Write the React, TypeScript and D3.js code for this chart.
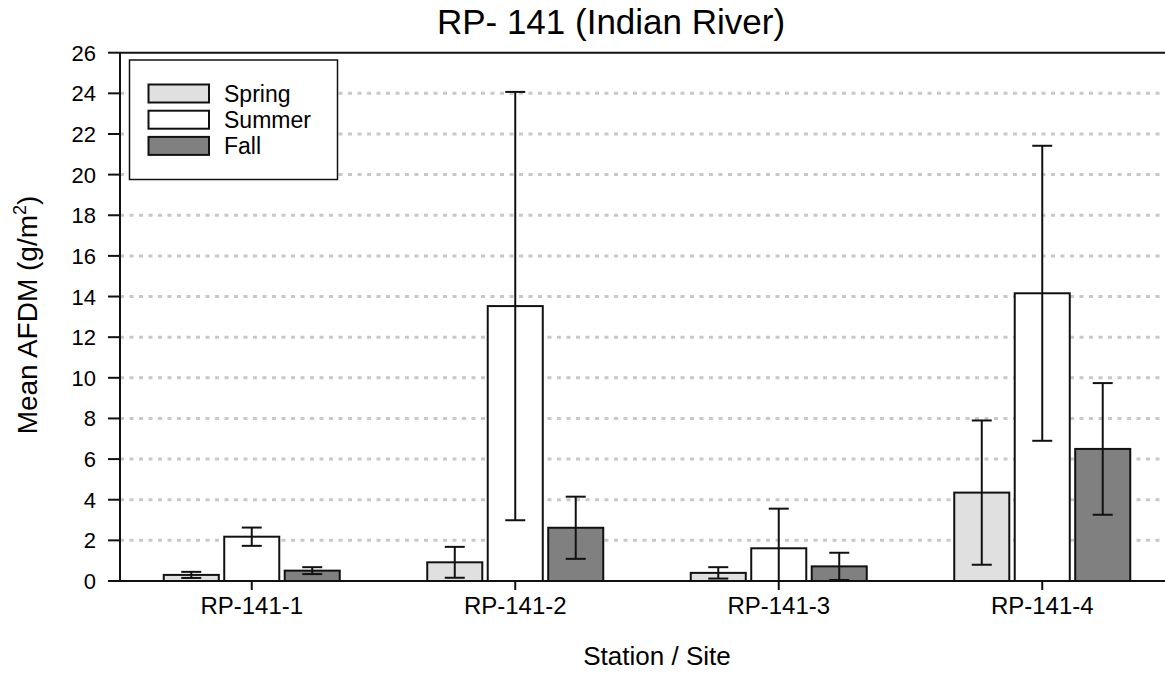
import React from 'react';
import * as d3 from 'd3';

// Station / season data (mean ± error)
const stations = ['RP-141-1', 'RP-141-2', 'RP-141-3', 'RP-141-4'];
const seasons = ['Spring', 'Summer', 'Fall'];
const springMean = [0.3, 0.92, 0.4, 4.35];
const springErr = [0.15, 0.76, 0.28, 3.55];
const summerMean = [2.18, 13.53, 1.61, 14.16];
const summerErr = [0.45, 10.54, 1.95, 7.26];
const fallMean = [0.51, 2.62, 0.72, 6.5];
const fallErr = [0.17, 1.53, 0.67, 3.24];
const yTicks = [0, 2, 4, 6, 8, 10, 12, 14, 16, 18, 20, 22, 24, 26];

const seasonFill: Record<string, string> = {
  Spring: '#e0e0e0',
  Summer: '#ffffff',
  Fall: '#808080',
};

const W = 1165;
const H = 682;
const FONT = '"Liberation Sans", Arial, sans-serif';

const App: React.FC = () => {
  const margin = { left: 120, top: 52.7, bottom: 581 };

  const x = d3.scaleBand<string>().domain(stations).range([margin.left, 1174]).padding(0);
  const inner = d3.scaleBand<string>().domain(seasons).range([-88, 88]).paddingInner(0.09);
  const y = d3.scaleLinear().domain([0, 26]).range([margin.bottom, margin.top]);

  const rows = stations.flatMap((st, i) => [
    { st, season: 'Spring', m: springMean[i], e: springErr[i] },
    { st, season: 'Summer', m: summerMean[i], e: summerErr[i] },
    { st, season: 'Fall', m: fallMean[i], e: fallErr[i] },
  ]);

  const center = (st: string) => (x(st) || 0) + x.bandwidth() / 2;

  return (
    <svg width={W} height={H} style={{ position: 'absolute', left: 0, top: 0, background: '#fff' }} fontFamily={FONT}>
      {/* grid */}
      {yTicks.filter(t => t > 0 && t < 26).map(t => (
        <line key={'g' + t} x1={margin.left} x2={W} y1={y(t)} y2={y(t)}
          stroke="#c8c8c8" strokeWidth={3} strokeDasharray="4,5.5" />
      ))}

      {/* bars */}
      {rows.map((r, i) => {
        const bx = center(r.st) + (inner(r.season) || 0);
        return (
          <rect key={'b' + i} x={bx} y={y(r.m)} width={inner.bandwidth()} height={y(0) - y(r.m)}
            fill={seasonFill[r.season]} stroke="#111" strokeWidth={2} />
        );
      })}

      {/* error bars */}
      {rows.map((r, i) => {
        const cx = center(r.st) + (inner(r.season) || 0) + inner.bandwidth() / 2;
        const hi = r.m + r.e;
        const lo = Math.max(0, r.m - r.e);
        return (
          <g key={'e' + i} stroke="#111" strokeWidth={2}>
            <line x1={cx} x2={cx} y1={y(hi)} y2={y(lo)} />
            <line x1={cx - 10} x2={cx + 10} y1={y(hi)} y2={y(hi)} />
            {r.m - r.e > 0 && <line x1={cx - 10} x2={cx + 10} y1={y(lo)} y2={y(lo)} />}
          </g>
        );
      })}

      {/* axes */}
      <g stroke="#111" strokeWidth={2}>
        <line x1={margin.left} x2={margin.left} y1={margin.top} y2={margin.bottom + 1} />
        <line x1={margin.left} x2={W} y1={margin.bottom} y2={margin.bottom} />
        <line x1={margin.left} x2={W} y1={margin.top} y2={margin.top} />
        {yTicks.map(t => (
          <line key={'yt' + t} x1={108} x2={margin.left} y1={y(t)} y2={y(t)} />
        ))}
        {stations.map(st => (
          <line key={'xt' + st} x1={center(st)} x2={center(st)} y1={margin.bottom} y2={margin.bottom + 9} />
        ))}
      </g>

      {yTicks.map(t => (
        <text key={'yl' + t} x={96} y={y(t) + 8} textAnchor="end" fontSize={22} fill="#000">{t}</text>
      ))}
      {stations.map(st => (
        <text key={'xl' + st} x={center(st)} y={614} textAnchor="middle" fontSize={24} fill="#000">{st}</text>
      ))}

      {/* legend */}
      <rect x={129.5} y={60} width={208} height={119.5} fill="#fff" stroke="#111" strokeWidth={1.5} />
      {seasons.map((s, i) => (
        <g key={'lg' + s}>
          <rect x={148.5} y={84.5 + i * 26.2} width={60.5} height={18} fill={seasonFill[s]} stroke="#111" strokeWidth={2} />
          <text x={224} y={101.5 + i * 26.2} fontSize={23} fill="#000">{s}</text>
        </g>
      ))}

      {/* titles */}
      <text x={611} y={34} textAnchor="middle" fontSize={35} fill="#000">RP- 141 (Indian River)</text>
      <text x={657} y={665} textAnchor="middle" fontSize={26} fill="#000">Station / Site</text>
      <text transform="translate(37,315) rotate(-90)" textAnchor="middle" fontSize={28} fill="#000">
        Mean AFDM (g/m<tspan dy={-11} fontSize={18}>2</tspan><tspan dy={11}>)</tspan>
      </text>
    </svg>
  );
};

export default App;
